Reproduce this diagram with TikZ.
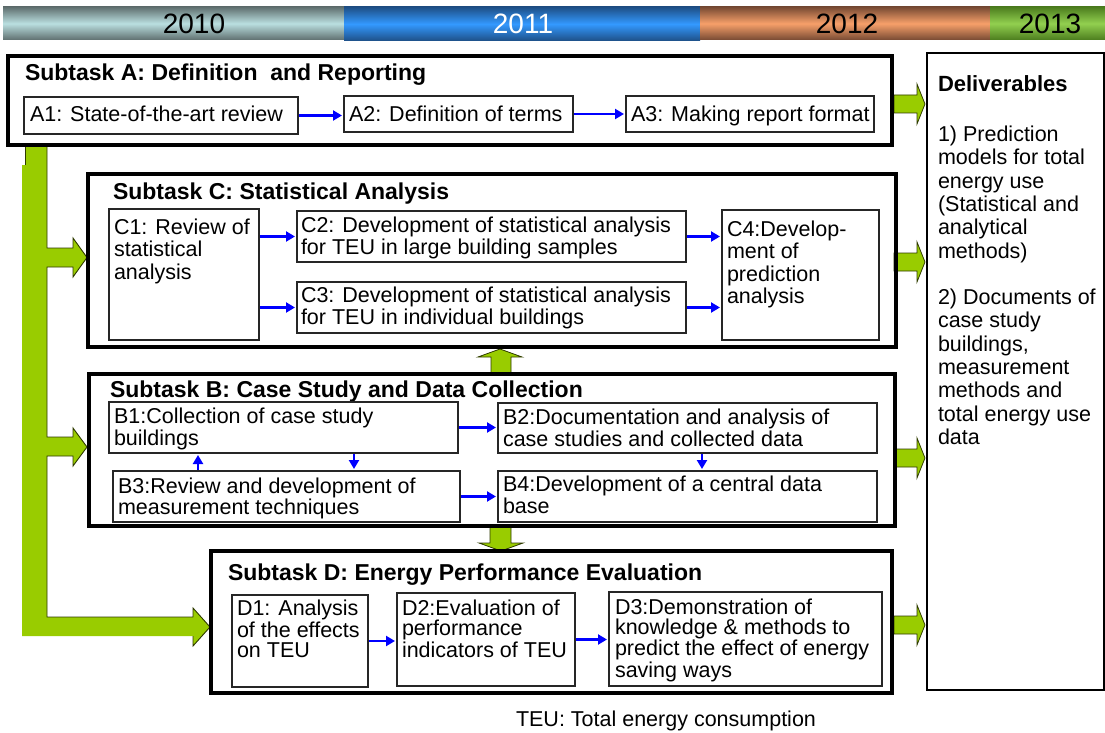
\documentclass[tikz,border=0pt]{standalone}
\usepackage{fontspec}
\setmainfont{Liberation Sans}
\usetikzlibrary{arrows.meta,calc}
\definecolor{gfill}{HTML}{99CC00}
\definecolor{gline}{HTML}{2E3A00}
\definecolor{yAe}{HTML}{5F6F6F}\definecolor{yAm}{HTML}{BADFE0}
\definecolor{yBe}{HTML}{1E4F86}\definecolor{yBm}{HTML}{3399FF}
\definecolor{yCe}{HTML}{774A33}\definecolor{yCm}{HTML}{F7A06A}
\definecolor{yDe}{HTML}{4C7D1E}\definecolor{yDm}{HTML}{92D050}
\begin{document}
\begin{tikzpicture}[x=1pt,y=-1pt,
  yr/.style={inner sep=0,font=\fontsize{28}{30}\selectfont},
  sub/.style={draw=black,line width=3.5pt,inner sep=0,outer sep=0},
  ibox/.style={draw=black!85,line width=1.2pt,inner sep=0,outer sep=0},
  ttl/.style={inner sep=0,outer sep=0,anchor=base west,font=\fontsize{23}{24}\bfseries\selectfont},
  txt/.style={inner sep=0,outer sep=0,anchor=base west,align=left,font=\fontsize{21.5}{20}\selectfont},
  txtw/.style={inner sep=0,outer sep=0,anchor=base west,align=left,font=\fontsize{21.5}{22.5}\selectfont},
  barrow/.style={draw=blue,line width=2.2pt,-{Triangle[length=9pt,width=10pt]},shorten <=1pt,shorten >=2pt},
  garrow/.style={fill=gfill,draw=gline,line width=0.8pt}
]
\useasboundingbox (0,0) rectangle (1105,733);
% year bar
\shade[top color=yAe,bottom color=yAe,middle color=yAm] (3,7) rectangle (344,40);
\shade[top color=yBe,bottom color=yBe,middle color=yBm] (344,7) rectangle (700,41);
\shade[top color=yCe,bottom color=yCe,middle color=yCm] (700,7) rectangle (990,40);
\shade[top color=yDe,bottom color=yDe,middle color=yDm] (990,7) rectangle (1105,40);
\node[yr] (y10) at (194,24) {2010};
\node[yr,text=white] (y11) at (523,24) {2011};
\node[yr] (y12) at (847,24) {2012};
\node[yr] (y13) at (1050,24) {2013};

% green left bracket
\fill[gfill] (25,146) -- (47,146) -- (47,248) -- (73,248) -- (73,238) -- (87,257.5) -- (73,277) -- (73,267) -- (47,267)
  -- (47,437) -- (73,437) -- (73,428) -- (87,447) -- (73,466) -- (73,456) -- (47,456)
  -- (47,617) -- (193,617) -- (193,608) -- (210,627) -- (193,646) -- (193,636) -- (22,636) -- (22,165) -- (25,165) -- cycle;
\draw[gline,line width=0.9pt] (25,165) -- (25,146);
\draw[gline,line width=0.9pt] (47,146) -- (47,248) -- (73,248) -- (73,238) -- (87,257.5) -- (73,277) -- (73,267) -- (47,267)
  -- (47,437) -- (73,437) -- (73,428) -- (87,447) -- (73,466) -- (73,456) -- (47,456)
  -- (47,617) -- (193,617) -- (193,608) -- (210,627) -- (193,646) -- (193,636);

% right green arrows
\foreach \c in {104,262,458,625}{
  \filldraw[garrow] (894,\c-9) -- (917,\c-9) -- (917,\c-20) -- (925,\c) -- (917,\c+20) -- (917,\c+9) -- (894,\c+9) -- cycle;
}
% vertical green arrows
\filldraw[garrow] (491,374) -- (491,357) -- (478,357) -- (500,349) -- (522,357) -- (511,357) -- (511,374) -- cycle;
\filldraw[garrow] (490,527) -- (490,543) -- (479,543) -- (501,551) -- (523,543) -- (511,543) -- (511,527) -- cycle;

% Subtask A
\node[sub,minimum width=884pt,minimum height=89pt,anchor=north west] (A) at (8,56) {};
\node[ttl] (At) at (25,81) {Subtask A: Definition\ \ and Reporting};
\node[ibox,minimum width=274pt,minimum height=37pt,anchor=north west] (A1) at (24,97) {};
\node[txt] (A1t) at (30,122) {A1: State-of-the-art review};
\node[ibox,minimum width=229pt,minimum height=36pt,anchor=north west] (A2) at (344,96) {};
\node[txt] (A2t) at (349,122) {A2: Definition of terms};
\node[ibox,minimum width=248pt,minimum height=36pt,anchor=north west] (A3) at (626,96) {};
\node[txt] (A3t) at (631,122) {A3: Making report format};
\draw[barrow] (A1.east) -- (A1.east -| A2.west);
\draw[barrow] (A2.east) -- (A2.east -| A3.west);

% Subtask C
\node[sub,minimum width=808pt,minimum height=173pt,anchor=north west] (C) at (88,174) {};
\node[ttl] (Ct) at (113,199) {Subtask C: Statistical Analysis};
\node[ibox,minimum width=150pt,minimum height=131pt,anchor=north west] (C1) at (109,209) {};
\node[txtw] (C1t) at (114,279) {C1: Review of\\statistical\\analysis};
\node[ibox,minimum width=389pt,minimum height=51pt,anchor=north west] (C2) at (297,211) {};
\node[txt,font=\fontsize{21.5}{19}\selectfont] (C2t) at (301,254) {C2: Development of statistical analysis\\for TEU in large building samples};
\node[ibox,minimum width=389pt,minimum height=51pt,anchor=north west] (C3) at (297,282) {};
\node[txt,font=\fontsize{21.5}{19}\selectfont] (C3t) at (301,324) {C3: Development of statistical analysis\\for TEU in individual buildings};
\node[ibox,minimum width=157pt,minimum height=130pt,anchor=north west] (C4) at (722,210) {};
\node[txtw] (C4t) at (727,303.5) {C4:Develop-\\ment of\\prediction\\analysis};
\draw[barrow] (C1.east |- C2.west) -- (C2.west);
\draw[barrow] (C1.east |- C3.west) -- (C3.west);
\draw[barrow] (C2.east) -- (C2.east -| C4.west);
\draw[barrow] (C3.east) -- (C3.east -| C4.west);

% Subtask B
\node[sub,minimum width=806pt,minimum height=152pt,anchor=north west] (B) at (89,374) {};
\node[ttl] (Bt) at (110,397) {Subtask B: Case Study and Data Collection};
\node[ibox,minimum width=349pt,minimum height=51pt,anchor=north west] (B1) at (109,402) {};
\node[txt] (B1t) at (114,445) {B1:Collection of case study\\buildings};
\node[ibox,minimum width=347pt,minimum height=51pt,anchor=north west] (B3) at (113,471) {};
\node[txt,font=\fontsize{21.5}{21}\selectfont] (B3t) at (118,514) {B3:Review and development of\\measurement techniques};
\node[ibox,minimum width=379pt,minimum height=50pt,anchor=north west] (B2) at (498,403) {};
\node[txt] (B2t) at (503,446) {B2:Documentation and analysis of\\case studies and collected data};
\node[ibox,minimum width=379pt,minimum height=51pt,anchor=north west] (B4) at (498,471) {};
\node[txt] (B4t) at (503,513) {B4:Development of a central data\\base};
\draw[barrow] (B1.east) -- (B1.east -| B2.west);
\draw[barrow] (B3.east) -- (B3.east -| B4.west);
\draw[barrow] ([xshift=85pt]B3.north west) -- ([xshift=85pt]B3.north west |- B1.south);
\draw[barrow] ([xshift=245pt]B1.south west) -- ([xshift=245pt]B1.south west |- B3.north);
\draw[barrow] ([xshift=204pt]B2.south west) -- ([xshift=204pt]B2.south west |- B4.north);

% Subtask D
\node[sub,minimum width=681pt,minimum height=142pt,anchor=north west] (D) at (211,551) {};
\node[ttl] (Dt) at (228,580) {Subtask D: Energy Performance Evaluation};
\node[ibox,minimum width=136pt,minimum height=92pt,anchor=north west] (D1) at (232,595) {};
\node[txt] (D1t) at (237,657) {D1: Analysis\\of the effects\\on TEU};
\node[ibox,minimum width=178pt,minimum height=93pt,anchor=north west] (D2) at (397,593) {};
\node[txt] (D2t) at (402,657) {D2:Evaluation of\\performance\\indicators of TEU};
\node[ibox,minimum width=273pt,minimum height=94pt,anchor=north west] (D3) at (609,592) {};
\node[txt] (D3t) at (615,677) {D3:Demonstration of\\knowledge \& methods to\\predict the effect of energy\\saving ways};
\draw[barrow] (D1.east) -- (D1.east -| D2.west);
\draw[barrow] (D2.east) -- (D2.east -| D3.west);

% Deliverables
\node[draw=black,line width=1.5pt,inner sep=0,outer sep=0,minimum width=177pt,minimum height=637pt,anchor=north west] (Del) at (927,53) {};
\node[ttl,font=\fontsize{22}{24}\bfseries\selectfont] (Delt) at (938,92) {Deliverables};
\node[txt,font=\fontsize{21.5}{23.3}\selectfont] (Delb) at (938,444.4) {1) Prediction\\models for total\\energy use\\(Statistical and\\analytical\\methods)\\[23.3pt]2) Documents of\\case study\\buildings,\\measurement\\methods and\\total energy use\\data};

% footnote
\node[txt] (note) at (516,726) {TEU: Total energy consumption};
\end{tikzpicture}
\end{document}
